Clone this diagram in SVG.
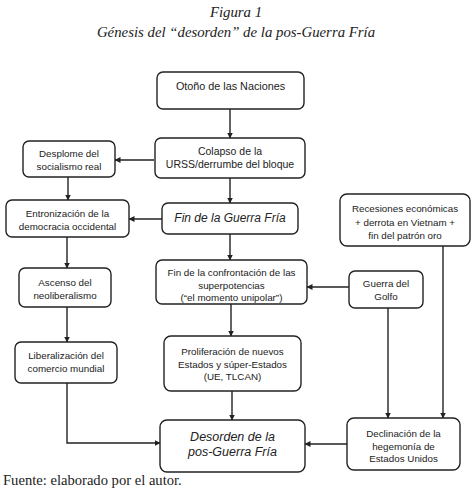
<svg xmlns="http://www.w3.org/2000/svg" width="474" height="491" viewBox="0 0 474 491">
<defs>
<marker id="ah" markerWidth="6" markerHeight="6" refX="5.5" refY="3" orient="auto" markerUnits="userSpaceOnUse">
<path d="M0,0 L6,3 L0,6 Z" fill="#222"/>
</marker>
<style>
.box{fill:#fff;stroke:#222;stroke-width:1.4}
.t{font-family:"Liberation Sans",Arial,sans-serif;font-size:9.8px;fill:#222;text-anchor:middle}
.it{font-family:"Liberation Sans",Arial,sans-serif;font-style:italic;font-size:12px;fill:#222;text-anchor:middle}
.c{fill:none;stroke:#222;stroke-width:1.4;marker-end:url(#ah)}
.cap{font-family:"Liberation Serif","Times New Roman",serif;font-style:italic;font-size:14.8px;fill:#222;text-anchor:middle}
.src{font-family:"Liberation Serif","Times New Roman",serif;font-size:14.6px;fill:#222}
</style>
</defs>
<rect width="474" height="491" fill="#fff"/>
<text class="cap" x="236" y="17">Figura 1</text>
<text class="cap" x="236" y="37">Génesis del “desorden” de la pos-Guerra Fría</text>

<g id="connectors">
<path class="c" d="M230,109 V138"/>
<path class="c" d="M154,160 H115"/>
<path class="c" d="M230,178 V203"/>
<path class="c" d="M162,219 H129"/>
<path class="c" d="M68,177 V200"/>
<path class="c" d="M67,237 V268"/>
<path class="c" d="M67,307 V342"/>
<path class="c" d="M67,383 V443 H160"/>
<path class="c" d="M230,234 V260"/>
<path class="c" d="M349,287 H307"/>
<path class="c" d="M231,304 V336"/>
<path class="c" d="M232,391 V420"/>
<path class="c" d="M347,444 H305"/>
<path class="c" d="M388,308 V418"/>
<path class="c" d="M443,246 V418"/>
</g>

<g id="otono"><rect class="box" x="157" y="72" width="147" height="37" rx="6"/>
<text class="t" style="font-size:10.8px" x="230.5" y="90">Otoño de las Naciones</text></g>

<g id="colapso"><rect class="box" x="155" y="138" width="150" height="40" rx="6"/>
<text class="t" style="font-size:10.5px" x="230" y="155">Colapso de la</text>
<text class="t" style="font-size:10.5px" x="230" y="168">URSS/derrumbe del bloque</text></g>

<g id="desplome"><rect class="box" x="23" y="141" width="92" height="36" rx="6"/>
<text class="t" x="69" y="157">Desplome del</text>
<text class="t" x="69" y="170">socialismo real</text></g>

<g id="entronizacion"><rect class="box" x="6" y="200" width="123" height="37" rx="6"/>
<text class="t" x="67.5" y="217">Entronización de la</text>
<text class="t" x="67.5" y="230">democracia occidental</text></g>

<g id="finguerra"><rect class="box" x="162" y="203" width="136" height="31" rx="6"/>
<text class="it" x="230" y="222">Fin de la Guerra Fría</text></g>

<g id="ascenso"><rect class="box" x="19" y="268" width="92" height="39" rx="6"/>
<text class="t" x="65" y="286">Ascenso del</text>
<text class="t" x="65" y="299">neoliberalismo</text></g>

<g id="confrontacion"><rect class="box" x="156" y="260" width="151" height="44" rx="6"/>
<text class="t" x="231.5" y="276">Fin de la confrontación de las</text>
<text class="t" x="231.5" y="288.5">superpotencias</text>
<text class="t" x="231.5" y="301">(“el momento unipolar”)</text></g>

<g id="recesiones"><rect class="box" x="340" y="194" width="130" height="52" rx="7"/>
<text class="t" x="405" y="212">Recesiones económicas</text>
<text class="t" x="405" y="225.5">+ derrota en Vietnam +</text>
<text class="t" x="405" y="239">fin del patrón oro</text></g>

<g id="golfo"><rect class="box" x="349" y="271" width="74" height="37" rx="6"/>
<text class="t" x="386" y="287">Guerra del</text>
<text class="t" x="386" y="300">Golfo</text></g>

<g id="liberalizacion"><rect class="box" x="15" y="342" width="102" height="41" rx="6"/>
<text class="t" x="66" y="359">Liberalización del</text>
<text class="t" x="66" y="372">comercio mundial</text></g>

<g id="proliferacion"><rect class="box" x="164" y="336" width="137" height="55" rx="7"/>
<text class="t" x="232.5" y="355">Proliferación de nuevos</text>
<text class="t" x="232.5" y="367.5">Estados y súper-Estados</text>
<text class="t" x="232.5" y="380">(UE, TLCAN)</text></g>

<g id="desorden"><rect class="box" x="160" y="420" width="145" height="52" rx="7"/>
<text class="it" style="font-size:12.5px" x="232.5" y="441">Desorden de la</text>
<text class="it" style="font-size:12.5px" x="232.5" y="456">pos-Guerra Fría</text></g>

<g id="declinacion"><rect class="box" x="347" y="418" width="113" height="52" rx="7"/>
<text class="t" x="403.5" y="437">Declinación de la</text>
<text class="t" x="403.5" y="449.5">hegemonía de</text>
<text class="t" x="403.5" y="462">Estados Unidos</text></g>

<text class="src" x="3" y="485">Fuente: elaborado por el autor.</text>
</svg>
